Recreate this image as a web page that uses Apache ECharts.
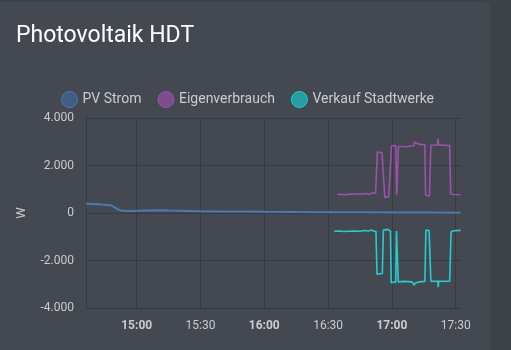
<!DOCTYPE html>
<html>
<head>
<meta charset="utf-8">
<script src="https://cdn.jsdelivr.net/npm/echarts@6/dist/echarts.min.js"></script>
<style>
  html, body { margin: 0; padding: 0; background: #3d4148; width: 511px; height: 350px; overflow: hidden; }
  #card { position: absolute; left: 0; top: 2px; width: 490px; height: 348px; background: #444951; border-radius: 0 4px 0 0; }
  #chart { position: absolute; left: 0; top: -2px; width: 511px; height: 350px; }
</style>
</head>
<body>
<div id="card"><div id="chart"></div></div>
<script>
const DAY = '2024-05-12';
const seriesNames = ['PV Strom', 'Eigenverbrauch', 'Verkauf Stadtwerke'];
const yTicks = [-4000, -2000, 0, 2000, 4000];
const xTicks = ['15:00', '15:30', '16:00', '16:30', '17:00', '17:30'];
const xRange = ['14:36:10', '17:32:30'];

// PV generation in W
const pvStrom = [
  ['14:36:10', 400], ['14:37:30', 380], ['14:39:00', 390], ['14:40:30', 370], ['14:42:00', 380],
  ['14:43:30', 360], ['14:45:00', 350], ['14:46:30', 340], ['14:48:00', 320], ['14:49:30', 250],
  ['14:51:00', 160], ['14:52:30', 110], ['14:55:00', 90], ['14:58:00', 85], ['15:00:00', 90],
  ['15:05:00', 110], ['15:10:00', 120], ['15:15:00', 105], ['15:20:00', 95], ['15:25:00', 80],
  ['15:30:00', 70], ['15:40:00', 65], ['15:50:00', 60], ['16:00:00', 50], ['16:15:00', 40],
  ['16:30:00', 35], ['16:45:00', 30], ['17:00:00', 25], ['17:15:00', 20], ['17:32:20', 15]
];

// Own consumption in W
const eigenverbrauch = [
  ['16:34:20', 780], ['16:36:00', 790], ['16:38:00', 770], ['16:40:30', 800], ['16:42:00', 790],
  ['16:44:00', 810], ['16:46:00', 800], ['16:48:00', 820], ['16:49:30', 790], ['16:51:00', 850],
  ['16:52:20', 830], ['16:53:10', 2570], ['16:55:20', 2540], ['16:56:40', 650], ['16:58:30', 680],
  ['16:59:20', 720], ['16:59:50', 2830], ['17:00:15', 2860], ['17:01:50', 2840], ['17:02:15', 750],
  ['17:02:40', 740], ['17:03:05', 2800], ['17:05:00', 2800], ['17:07:00', 2790], ['17:09:00', 2820],
  ['17:10:20', 2830], ['17:10:40', 2990], ['17:12:00', 2920], ['17:14:00', 2880], ['17:15:30', 2880],
  ['17:15:50', 750], ['17:16:30', 690], ['17:17:40', 720], ['17:18:20', 2850], ['17:21:30', 2860],
  ['17:21:40', 3130], ['17:21:55', 2870], ['17:27:10', 2840], ['17:27:40', 800], ['17:29:00', 780],
  ['17:32:20', 770]
];

// Energy sold to the utility in W
const verkaufStadtwerke = [
  ['16:32:55', -770], ['16:35:00', -760], ['16:37:20', -780], ['16:37:40', -700], ['16:38:00', -770],
  ['16:42:00', -760], ['16:45:00', -770], ['16:47:00', -740], ['16:49:00', -760], ['16:50:30', -720],
  ['16:51:30', -770], ['16:52:30', -770], ['16:53:00', -2580], ['16:55:30', -2550], ['16:56:00', -720],
  ['16:58:00', -690], ['16:59:20', -760], ['16:59:40', -2930], ['17:00:10', -2940], ['17:01:50', -2900],
  ['17:02:10', -760], ['17:02:40', -780], ['17:03:00', -2900], ['17:06:00', -2880], ['17:09:30', -2900],
  ['17:10:20', -3040], ['17:11:00', -2950], ['17:13:00', -2900], ['17:15:30', -2880], ['17:16:00', -720],
  ['17:17:30', -740], ['17:18:20', -2870], ['17:21:40', -2880], ['17:21:48', -3120], ['17:22:00', -2880],
  ['17:27:10', -2870], ['17:27:50', -800], ['17:29:00', -750], ['17:32:20', -730]
];

const toTime = s => new Date(DAY + 'T' + (s.length === 5 ? s + ':00' : s)).getTime();
const toSeries = arr => arr.map(([t, v]) => [toTime(t), v]);
const pad = n => String(n).padStart(2, '0');

const lineColors = ['#4a7bb3', '#9d50ae', '#1fcfd0'];
const iconFills = ['#3f5e82', '#7d4d8c', '#269ea0'];
const font = 'Roboto, "Liberation Sans", Arial, sans-serif';
const gridColor = '#373a40';
const labelColor = '#c9cbce';
const tickTimes = xTicks.map(toTime);

const chart = echarts.init(document.getElementById('chart'), null, { renderer: 'canvas' });
chart.setOption({
  backgroundColor: 'transparent',
  animation: false,
  textStyle: { fontFamily: font },
  title: {
    text: 'Photovoltaik HDT',
    left: 16, top: 25, padding: 0,
    textStyle: { color: '#ffffff', fontSize: 23, fontWeight: 'normal', fontFamily: font }
  },
  legend: {
    top: 86, left: 56,
    itemWidth: 16, itemHeight: 16, itemGap: 16,
    icon: 'circle',
    textStyle: { color: labelColor, fontSize: 14, fontFamily: font },
    data: seriesNames.map((n, i) => ({
      name: n,
      itemStyle: { color: iconFills[i], borderColor: lineColors[i], borderWidth: 1 }
    }))
  },
  grid: { left: 86, right: 50, top: 118, bottom: 42 },
  xAxis: {
    type: 'value',
    min: toTime(xRange[0]),
    max: toTime(xRange[1]),
    axisLine: { show: false },
    axisTick: { show: false, customValues: tickTimes },
    splitLine: { show: true, lineStyle: { color: gridColor, width: 1 } },
    axisLabel: {
      customValues: tickTimes,
      color: labelColor, fontSize: 12, margin: 12,
      formatter: v => {
        const d = new Date(v);
        const txt = pad(d.getHours()) + ':' + pad(d.getMinutes());
        return d.getMinutes() === 0 ? '{b|' + txt + '}' : txt;
      },
      rich: { b: { fontWeight: 'bold', color: labelColor, fontSize: 12, fontFamily: font } }
    }
  },
  yAxis: {
    type: 'value',
    min: yTicks[0], max: yTicks[yTicks.length - 1], interval: 2000,
    name: 'W', nameLocation: 'middle', nameGap: 58,
    nameTextStyle: { color: labelColor, fontSize: 13 },
    axisLine: { show: true, lineStyle: { color: gridColor } },
    axisTick: { show: false },
    splitLine: { lineStyle: { color: gridColor, width: 1 } },
    axisLabel: {
      color: labelColor, fontSize: 12, margin: 12,
      formatter: v => v.toLocaleString('de-DE')
    }
  },
  series: [
    { name: seriesNames[0], type: 'line', data: toSeries(pvStrom), showSymbol: false, lineStyle: { width: 2, color: lineColors[0] }, itemStyle: { color: lineColors[0] } },
    { name: seriesNames[1], type: 'line', data: toSeries(eigenverbrauch), showSymbol: false, lineStyle: { width: 1.6, color: lineColors[1] }, itemStyle: { color: lineColors[1] } },
    { name: seriesNames[2], type: 'line', data: toSeries(verkaufStadtwerke), showSymbol: false, lineStyle: { width: 1.6, color: lineColors[2] }, itemStyle: { color: lineColors[2] } }
  ]
});
</script>
</body>
</html>
